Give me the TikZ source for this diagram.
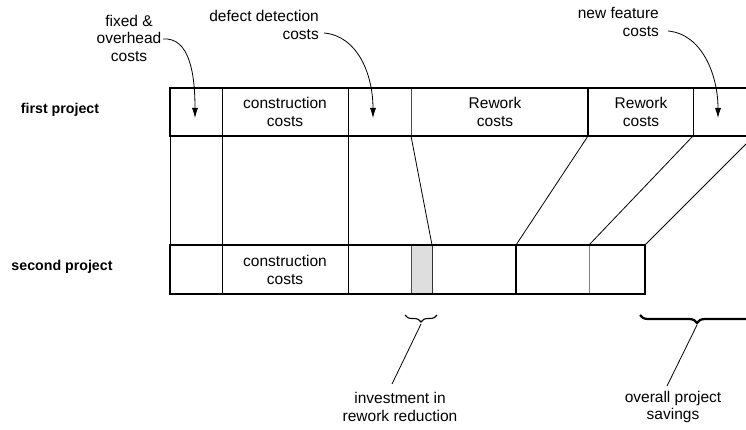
\documentclass[tikz,border=0pt]{standalone}
\usepackage{fontspec}
\setmainfont{Liberation Sans}
\usetikzlibrary{arrows.meta,decorations.pathreplacing}
\begin{document}
\begin{tikzpicture}[x=1pt,y=-1pt,
  font=\fontsize{15.5}{17.5}\selectfont,
  lbl/.style={inner sep=0pt,align=center},
  rowlbl/.style={inner sep=0pt,font=\fontsize{14.2}{17}\selectfont\bfseries},
  barline/.style={line width=2.6pt,line join=miter},
  thin/.style={line width=0.9pt},
  thickdiv/.style={line width=2.6pt},
  conn/.style={line width=0.8pt},
  callout/.style={line width=0.8pt,-{Latex[length=10pt,width=6pt]}},
  brc/.style={decorate,decoration={brace,amplitude=7pt}}]
\clip (0,0) rectangle (746,430);
\fill[white] (0,0) rectangle (746,430);

% ---------- first project bar ----------
\coordinate (t0) at (170,88);  \coordinate (b0) at (170,136);
\coordinate (t1) at (222,88);  \coordinate (b1) at (222,136);
\coordinate (t2) at (348,88);  \coordinate (b2) at (348,136);
\coordinate (t3) at (411,88);  \coordinate (b3) at (411,136);
\coordinate (t4) at (588,88);  \coordinate (b4) at (588,136);
\coordinate (t5) at (693,88);  \coordinate (b5) at (693,136);
\coordinate (t6) at (754,88);  \coordinate (b6) at (754,136);

% ---------- second project bar ----------
\coordinate (u0) at (170,245);  \coordinate (v0) at (170,294);
\coordinate (u1) at (222,245);  \coordinate (v1) at (222,294);
\coordinate (u2) at (348,245);  \coordinate (v2) at (348,294);
\coordinate (u3) at (411,245);  \coordinate (v3) at (411,294);
\coordinate (u4) at (432,245);  \coordinate (v4) at (432,294);
\coordinate (u5) at (516,245);  \coordinate (v5) at (516,294);
\coordinate (u6) at (589,245);  \coordinate (v6) at (589,294);
\coordinate (u7) at (645,245);  \coordinate (v7) at (645,294);

% grey investment cell
\fill[black!13] (u3) rectangle (v4);
\draw[thin,black!70] (u3) -- (v3);
\draw[thin,black!80] (u4) -- (v4);

% connectors between the bars
\draw[conn] (b0) -- (u0);
\draw[conn] (b1) -- (u1);
\draw[conn] (b2) -- (u2);
\draw[conn] (b3) -- (u4);
\draw[conn] (b4) -- (u5);
\draw[conn] (b5) -- (u6);
\draw[conn] (b6) -- (u7);

% dividers bar 1
\draw[thin] (t1) -- (b1);
\draw[thin] (t2) -- (b2);
\draw[thin,black!70] (t3) -- (b3);
\draw[thickdiv] (t4) -- (b4);
\draw[thin] (t5) -- (b5);
% dividers bar 2
\draw[thin] (u1) -- (v1);
\draw[thin] (u2) -- (v2);
\draw[thickdiv] (u5) -- (v5);
\draw[thin,black!50] (u6) -- (v6);

% outlines
\draw[barline] (t0) rectangle (b6);
\draw[barline] (u0) rectangle (v7);

% cell texts
\node[lbl] (c1) at (285,112) {construction\\costs};
\node[lbl] (r1) at (495,112) {Rework\\costs};
\node[lbl] (r2) at (641,112) {Rework\\costs};
\node[lbl] (c2) at (285,270) {construction\\costs};

% row labels
\node[rowlbl] (fp) at (60,110) {first project};
\node[rowlbl] (sp) at (62,267) {second project};

% top labels
\node[lbl] (fo) at (129,38) {fixed \&\\overhead\\costs};
\node[lbl,align=right,anchor=east] (dd) at (319,25) {defect detection\\costs};
\node[lbl,align=right,anchor=east] (nf) at (659,22) {new feature\\costs};

\coordinate (foS) at (163,39);
\coordinate (foT) at (195,118);
\coordinate (ddS) at (324,33);
\coordinate (ddT) at (373,118);
\coordinate (nfS) at (668,31);
\coordinate (nfT) at (718,118);
\draw[callout] (foS) .. controls (190,37) and (195,75) .. (foT);
\draw[callout] (ddS) .. controls (358,36) and (373,75) .. (ddT);
\draw[callout] (nfS) .. controls (702,34) and (718,75) .. (nfT);

% braces
\draw[brc,line width=1.1pt] (437,315) -- (405,315);
\draw[brc,line width=2.2pt,decoration={amplitude=8pt}] (754,315) -- (640,315);

\coordinate (ib) at (421,324);
\coordinate (ob) at (697,325);
\node[lbl] (inv) at (400,407) {investment in\\rework reduction};
\node[lbl] (ovs) at (673,407) {overall project\\savings};
\draw[conn] (ib) -- (392,384);
\draw[conn] (ob) -- (667,386);
\end{tikzpicture}
\end{document}
